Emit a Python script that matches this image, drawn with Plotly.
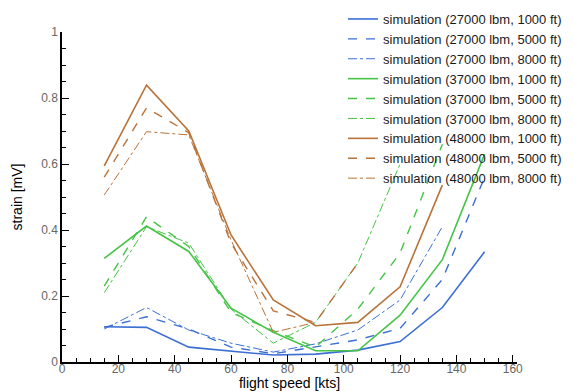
import plotly.graph_objects as go

speeds = [15, 30, 45, 60, 75, 90, 105, 120, 135, 150]

blue_1000 = [0.107, 0.105, 0.045, 0.033, 0.021, 0.024, 0.036, 0.062, 0.165, 0.334]
blue_5000 = [0.105, 0.137, 0.100, 0.045, 0.025, 0.046, 0.067, 0.102, 0.250, 0.560]
blue_8000 = [0.100, 0.165, 0.097, 0.057, 0.030, 0.055, 0.097, 0.188, 0.410]
green_1000 = [0.314, 0.412, 0.335, 0.163, 0.090, 0.034, 0.034, 0.142, 0.310, 0.630]
green_5000 = [0.230, 0.440, 0.350, 0.150, 0.095, 0.045, 0.160, 0.330, 0.660]
green_8000 = [0.210, 0.410, 0.360, 0.160, 0.057, 0.120, 0.300, 0.600]
brown_1000 = [0.594, 0.839, 0.700, 0.385, 0.188, 0.110, 0.120, 0.228, 0.536]
brown_5000 = [0.560, 0.770, 0.695, 0.360, 0.155, 0.120, 0.300]
brown_8000 = [0.506, 0.698, 0.688, 0.370, 0.090, 0.120]

names = [
    "simulation (27000 lbm, 1000 ft)", "simulation (27000 lbm, 5000 ft)", "simulation (27000 lbm, 8000 ft)",
    "simulation (37000 lbm, 1000 ft)", "simulation (37000 lbm, 5000 ft)", "simulation (37000 lbm, 8000 ft)",
    "simulation (48000 lbm, 1000 ft)", "simulation (48000 lbm, 5000 ft)", "simulation (48000 lbm, 8000 ft)",
]
series = [blue_1000, blue_5000, blue_8000, green_1000, green_5000, green_8000,
          brown_1000, brown_5000, brown_8000]

BLUE, GREEN, BROWN = "#3b6fd4", "#45c445", "#b8733a"
colors = [BLUE] * 3 + [GREEN] * 3 + [BROWN] * 3
dashes = ["solid", "dash", "dashdot"] * 3
widths = [1.6, 1.4, 1.0] * 3

fig = go.Figure()
for name, vals, c, d, w in zip(names, series, colors, dashes, widths):
    fig.add_trace(go.Scatter(
        x=speeds[:len(vals)], y=vals, mode="lines", name=name,
        line=dict(color=c, dash=d, width=w),
    ))

tickfont = dict(family="Liberation Sans, Arial, sans-serif", size=12, color="#666666")
fig.update_layout(
    width=573, height=391,
    margin=dict(l=62, r=56, t=32, b=29, autoexpand=False),
    plot_bgcolor="white", paper_bgcolor="white",
    font=dict(family="Liberation Sans, Arial, sans-serif", size=12, color="black"),
    legend=dict(
        xref="container", yref="container",
        x=343 / 573, y=1 - 4 / 391, xanchor="left", yanchor="top",
        bgcolor="rgba(255,255,255,0)", font=dict(size=13, color="#1a1a1a"),
        tracegroupgap=0,
    ),
    xaxis=dict(
        range=[0, 161.5], tickmode="linear", tick0=0, dtick=20,
        ticks="inside", ticklen=7, tickcolor="black", tickwidth=1,
        minor=dict(ticks="inside", ticklen=4, dtick=5, tickcolor="black", showgrid=False),
        showline=True, linecolor="black", linewidth=1.5, showgrid=False, zeroline=False,
        tickfont=tickfont, automargin=False, ticklabelstandoff=-5,
        title=dict(text="flight speed [kts]", font=dict(size=14, color="black"), standoff=14),
    ),
    yaxis=dict(
        range=[0, 1], tickmode="array", tickvals=[0, 0.2, 0.4, 0.6, 0.8, 1],
        ticktext=["0", "0.2", "0.4", "0.6", "0.8", "1"],
        ticks="inside", ticklen=7, tickcolor="black", tickwidth=1,
        minor=dict(ticks="inside", ticklen=4, dtick=0.05, tickcolor="black", showgrid=False),
        showline=True, linecolor="black", linewidth=1.5, showgrid=False, zeroline=False,
        tickfont=tickfont, automargin=False,
        title=dict(text="strain [mV]", font=dict(size=14, color="black"), standoff=15),
    ),
)

fig.write_html(
    "out.html",
    config={"displayModeBar": False},
    post_script="document.body.style.margin='0';document.body.style.padding='0';",
)
